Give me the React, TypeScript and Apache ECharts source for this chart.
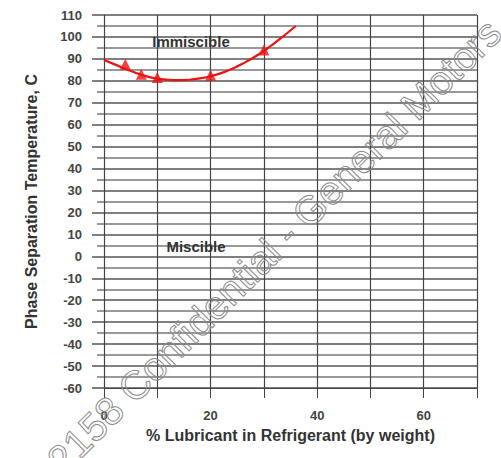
import React, { useEffect, useRef } from "react";
import * as echarts from "echarts";

// Measured data points (triangles)
const pointX = [4, 7, 10, 20, 30];
const pointY = [87.5, 83, 81.5, 82.5, 94];

// Trend curve
const curveX = [0, 2, 4, 6, 8, 10, 12, 14, 16, 18, 20, 22, 24, 26, 28, 30, 32, 34, 36];
const curveY = [89.5, 87.5, 85.5, 83.6, 82, 81, 80.5, 80.3, 80.5, 81.1, 82.1, 83.5, 85.4, 87.8, 90.5, 93.6, 97.2, 101, 105];

const yTicks = { min: -60, max: 110, step: 10 };
const xTicks = { min: 0, max: 70, step: 10, labelStep: 20 };

const xName = "% Lubricant in Refrigerant (by weight)";
const yName = "Phase Separation Temperature, C";
const regionLabels = ["Immiscible", "Miscible"];
const watermark = "2158 Confidential - General Motors";

const FONT = "Liberation Sans, Arial, sans-serif";

export default function App() {
  const ref = useRef<HTMLDivElement>(null);
  useEffect(() => {
    if (!ref.current) return;
    const chart = echarts.init(ref.current, null, { renderer: "svg" });
    const red = "#ee1111";
    chart.setOption({
      animation: false,
      backgroundColor: "#ffffff",
      grid: { left: 104, right: 24, top: 15, bottom: 70, containLabel: false },
      xAxis: {
        type: "value",
        min: xTicks.min,
        max: xTicks.max,
        interval: xTicks.step,
        name: xName,
        nameLocation: "middle",
        nameGap: 39,
        nameTextStyle: { fontFamily: FONT, fontSize: 16, fontWeight: "bold", color: "#333" },
        axisLine: { show: true, onZero: false, lineStyle: { color: "#444", width: 1 } },
        axisTick: { show: true, length: 10, lineStyle: { color: "#444" } },
        axisLabel: {
          margin: 21,
          fontFamily: FONT,
          fontSize: 13,
          fontWeight: "bold",
          color: "#444",
          formatter: (v: number) => (v % xTicks.labelStep === 0 ? String(v) : ""),
        },
        splitLine: { show: true, lineStyle: { color: "#444", width: 1.2 } },
      },
      yAxis: {
        type: "value",
        min: yTicks.min,
        max: yTicks.max,
        interval: yTicks.step,
        name: yName,
        nameLocation: "middle",
        nameGap: 65,
        nameTextStyle: { fontFamily: FONT, fontSize: 16, fontWeight: "bold", color: "#333" },
        axisLine: { show: true, onZero: false, lineStyle: { color: "#444", width: 1 } },
        axisTick: { show: true, length: 12, lineStyle: { color: "#555", width: 1.5 } },
        minorTick: { show: true, splitNumber: 2, length: 7, lineStyle: { color: "#777", width: 1.5 } },
        axisLabel: { margin: 22, fontFamily: FONT, fontSize: 13, fontWeight: "bold", color: "#444" },
        splitLine: { show: true, lineStyle: { color: "#555", width: 1.5 } },
        minorSplitLine: { show: true, lineStyle: { color: "#777", width: 1.5 } },
      },
      series: [
        {
          type: "line",
          data: curveX.map((x, i) => [x, curveY[i]]),
          smooth: true,
          showSymbol: false,
          symbol: "none",
          lineStyle: { color: red, width: 2.2 },
          z: 5,
        },
        {
          type: "scatter",
          data: pointX.map((x, i) => [x, pointY[i]]),
          symbol: "triangle",
          symbolSize: 11,
          itemStyle: { color: red },
          z: 6,
        },
      ],
      graphic: [
        {
          type: "text",
          x: 191,
          y: 41,
          z: 10,
          style: {
            text: regionLabels[0],
            align: "center",
            verticalAlign: "middle",
            font: `bold 15px ${FONT}`,
            fill: "#333",
          },
        },
        {
          type: "text",
          x: 196,
          y: 246,
          z: 10,
          style: {
            text: regionLabels[1],
            align: "center",
            verticalAlign: "middle",
            font: `bold 15px ${FONT}`,
            fill: "#333",
          },
        },
        {
          type: "text",
          x: 274,
          y: 246,
          rotation: Math.PI / 4,
          z: 20,
          silent: true,
          style: {
            text: watermark,
            align: "center",
            verticalAlign: "middle",
            font: `normal 40px ${FONT}`,
            fill: "rgba(255,255,255,0)",
            stroke: "#8a8a8a",
            lineWidth: 1,
          },
        },
      ],
    });
    return () => chart.dispose();
  }, []);
  return (
    <div
      ref={ref}
      style={{ position: "fixed", left: 0, top: 0, width: 501, height: 458, background: "#fff" }}
    />
  );
}
